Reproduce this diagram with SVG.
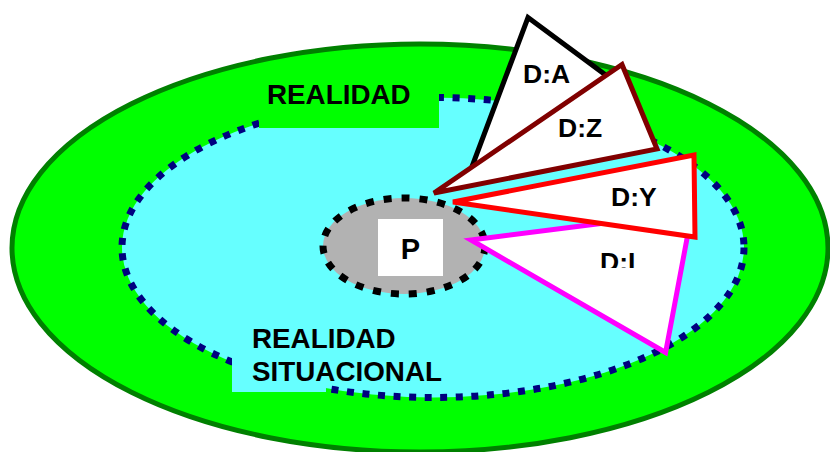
<svg xmlns="http://www.w3.org/2000/svg" width="830" height="452" viewBox="0 0 830 452">
  <style>
    .lbl { font-family: "Liberation Sans", Arial, sans-serif; font-weight: bold; fill: #000; }
    .big { font-size: 27.8px; }
    .d { font-size: 26.5px; }
    .tri { fill: #fff; stroke-width: 5; }
  </style>
  <defs>
    <clipPath id="clipDI">
      <rect x="590" y="240" width="60" height="28"/>
    </clipPath>
  </defs>
  <rect width="830" height="452" fill="#fff"/>
  <g id="realidad">
    <ellipse cx="420" cy="248" rx="408" ry="204" fill="#00FF00" stroke="#008000" stroke-width="5"/>
  </g>
  <g id="realidad-situacional">
    <ellipse cx="433" cy="247.5" rx="311" ry="150" fill="#66FFFF" stroke="#000080" stroke-width="7" stroke-dasharray="7 8.6"/>
  </g>
  <g id="label-realidad">
    <rect x="259" y="72" width="180" height="56" fill="#00FF00"/>
    <text class="lbl big" x="267" y="103.5">REALIDAD</text>
  </g>
  <g id="label-realidad-situacional">
    <rect x="232" y="318" width="94" height="74" fill="#66FFFF"/>
    <text class="lbl big" x="252" y="348">REALIDAD</text>
    <text class="lbl big" x="252" y="381">SITUACIONAL</text>
  </g>
  <g id="p">
    <ellipse cx="404" cy="246" rx="81" ry="48" fill="#B2B2B2" stroke="#000" stroke-width="7" stroke-dasharray="8 10"/>
    <rect x="378" y="219" width="65" height="57" fill="#fff"/>
    <text class="lbl" x="410.5" y="259" font-size="29" text-anchor="middle">P</text>
  </g>
  <g id="d-a">
    <polygon class="tri" points="528,17.5 615,82 467,180" stroke="#000"/>
    <text class="lbl d" x="523" y="83">D:A</text>
  </g>
  <g id="d-z">
    <polygon class="tri" points="434,193 622,64.5 657,149" stroke="#800000"/>
    <text class="lbl d" x="558" y="137">D:Z</text>
  </g>
  <g id="d-i">
    <polygon class="tri" points="471,240 692,212 665.6,352.5" stroke="#FF00FF"/>
    <text class="lbl d" x="600" y="271" clip-path="url(#clipDI)">D:I</text>
  </g>
  <g id="d-y">
    <polygon class="tri" points="453,202 694,155 695,237" stroke="#FF0000" stroke-width="6"/>
    <text class="lbl d" x="611" y="206">D:Y</text>
  </g>
</svg>
